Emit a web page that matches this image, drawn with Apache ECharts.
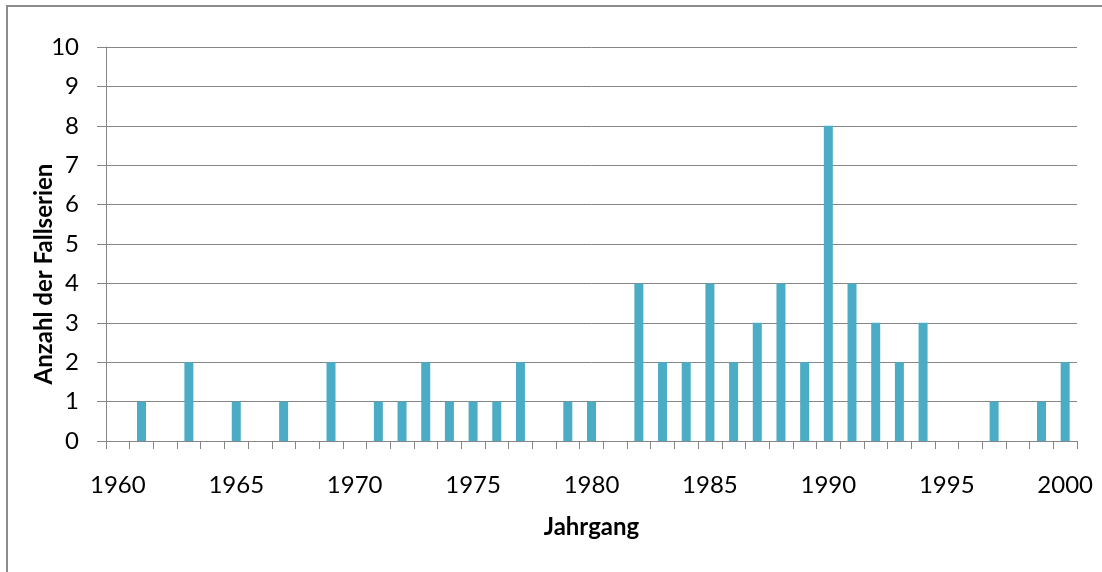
<!DOCTYPE html>
<html>
<head>
<meta charset="utf-8">
<title>Anzahl der Fallserien je Jahrgang</title>
<script src="https://cdn.jsdelivr.net/npm/echarts@6/dist/echarts.min.js"></script>
<style>
    html, body { margin: 0; padding: 0; background: #fff; }
    #main { width: 1102px; height: 572px; }
</style>
</head>
<body>
<div id="main"></div>
<script>
// 横轴的年份（每年一个类目）
const years = ['1960', '1961', '1962', '1963', '1964', '1965', '1966', '1967', '1968', '1969',
    '1970', '1971', '1972', '1973', '1974', '1975', '1976', '1977', '1978', '1979',
    '1980', '1981', '1982', '1983', '1984', '1985', '1986', '1987', '1988', '1989',
    '1990', '1991', '1992', '1993', '1994', '1995', '1996', '1997', '1998', '1999', '2000'];
// 每个年份的 Fallserien 数量
const counts = [0, 1, 0, 2, 0, 1, 0, 1, 0, 2,
    0, 1, 1, 2, 1, 1, 1, 2, 0, 1,
    1, 0, 4, 2, 2, 4, 2, 3, 4, 2,
    8, 4, 3, 2, 3, 0, 0, 1, 0, 1, 2];
// 纵轴刻度
const yTicks = [0, 1, 2, 3, 4, 5, 6, 7, 8, 9, 10];

const xTitle = 'Jahrgang';
const yTitle = 'Anzahl der Fallserien';

drawChart();

function drawChart() {
    var myChart = echarts.init(document.getElementById('main'));
    let gray = '#868686';
    let font = 'Lato, "Open Sans", sans-serif';
    var option = {
        animation: false,
        backgroundColor: '#fff',
        // 外边框
        graphic: [{
            type: 'rect',
            shape: { x: 7, y: 6, width: 1100, height: 570 },
            style: { fill: 'none', stroke: '#8c8c8c', lineWidth: 2 },
            silent: true
        }],
        grid: {
            left: 106,
            right: 25,
            top: 47,
            bottom: 131
        },
        xAxis: {
            type: 'category',
            data: years,
            boundaryGap: true,
            name: xTitle,
            nameLocation: 'middle',
            nameGap: 74,
            nameTextStyle: { fontFamily: font, fontSize: 24, fontWeight: 'bold', color: '#000' },
            axisLine: { lineStyle: { color: gray, width: 1 } },
            axisTick: { show: true, interval: 0, length: 8, lineStyle: { color: gray } },
            axisLabel: {
                interval: 4,
                margin: 32,
                fontFamily: font,
                fontSize: 24,
                color: '#000'
            },
            splitLine: { show: false }
        },
        yAxis: {
            type: 'value',
            min: yTicks[0],
            max: yTicks[yTicks.length - 1],
            interval: 1,
            name: yTitle,
            nameLocation: 'middle',
            nameGap: 50,
            nameMoveOverlap: false,
            // 标题在 Excel 原图里略偏下，用右侧 padding 把它往下挪一点
            nameTextStyle: { fontFamily: font, fontSize: 24, fontWeight: 'bold', color: '#000', padding: [0, 60, 0, 0] },
            axisLine: { show: true, lineStyle: { color: gray, width: 1 } },
            axisTick: { show: true, length: 9, lineStyle: { color: gray } },
            axisLabel: {
                margin: 27,
                fontFamily: font,
                fontSize: 24,
                color: '#000'
            },
            splitLine: { show: true, lineStyle: { color: gray, width: 1 } }
        },
        series: [{
            name: 'Fallserien',
            type: 'bar',
            data: counts,
            barWidth: 9,
            itemStyle: { color: '#4BACC6' }
        }]
    };
    myChart.setOption(option);
}
</script>
</body>
</html>
